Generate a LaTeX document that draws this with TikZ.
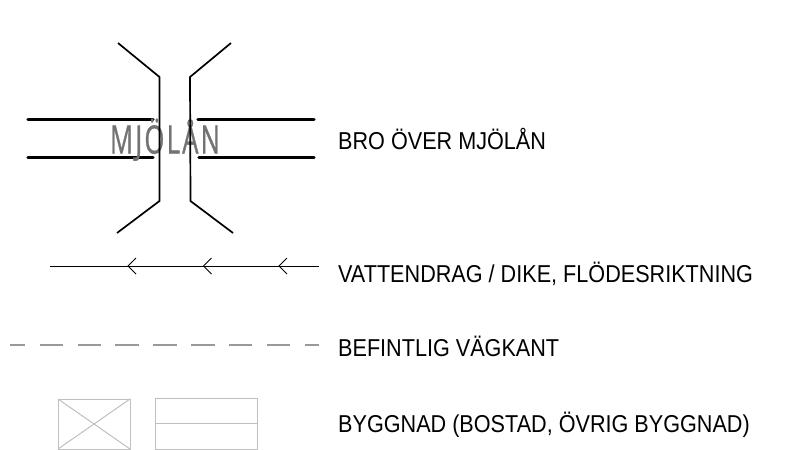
\documentclass[tikz,border=0pt]{standalone}
\usepackage{fontspec}
\setmainfont{Liberation Sans}
\newfontfamily\riverfont[LetterSpace=9,FakeBold=1.2]{Open Sans}
\usepackage{xcolor}
\usetikzlibrary{positioning, calc}
\tikzset{
  legendtext/.style={anchor=base west, inner sep=0pt, font=\fontsize{24.4}{25}\selectfont, xscale=0.886},
  roadedge/.style={line width=3.4pt, line cap=round},
  bridgeedge/.style={line width=1.7pt, line join=miter},
  flowline/.style={line width=1pt},
  dashline/.style={gray!80, line width=1.3pt},
  houseline/.style={black!25, line width=1pt}
}
\begin{document}
\begin{tikzpicture}[x=1pt,y=-1pt]
\useasboundingbox (0,0) rectangle (796,450);
% Bridge
\draw[roadedge] (28,119.7) -- (153,119.7);
\draw[roadedge] (28,157.3) -- (153,157.3);
\draw[roadedge] (198,119.7) -- (314,119.7);
\draw[roadedge] (199,157.3) -- (314,157.3);
\node[anchor=base, inner sep=0pt, text=black!55, font=\fontsize{39}{39}\selectfont\riverfont, xscale=0.655] (river) at (165,153.5) {MJÖLÅN};
\draw[bridgeedge] (118,43) -- (159.5,77) -- (159.5,201) -- (117,233);
\draw[bridgeedge] (231,43) -- (190,77) -- (190.5,201) -- (233,233);
\node[legendtext] (bridgetext) at (338,149.5) {BRO ÖVER MJÖLÅN};
% Watercourse
\draw[flowline] (50,266) -- (319,266);
\foreach \i in {128,203.5,279} {
    \draw[line width=0.8pt] (\i+8,258) -- (\i,266) -- (\i+8,274);
}
\node[legendtext] (flowtext) at (338,282) {VATTENDRAG / DIKE, FLÖDESRIKTNING};
% Road edge
\foreach \a/\b in {10/25,40/63,78/101,115/139,153/177,191/215,229/252,267/290,305/319} {
    \draw[dashline] (\a,345) -- (\b,345);
}
\node[legendtext] (roadtext) at (338,356) {BEFINTLIG VÄGKANT};
% Buildings
\draw[houseline] (58,399) rectangle (130,449);
\draw[houseline] (58,399) -- (130,449);
\draw[houseline] (58,449) -- (130,399);
\draw[houseline] (155,398) rectangle (257,449);
\draw[houseline] (155,423) -- (257,423);
\node[legendtext] (housetext) at (338,432) {BYGGNAD (BOSTAD, ÖVRIG BYGGNAD)};
\end{tikzpicture}
\end{document}
